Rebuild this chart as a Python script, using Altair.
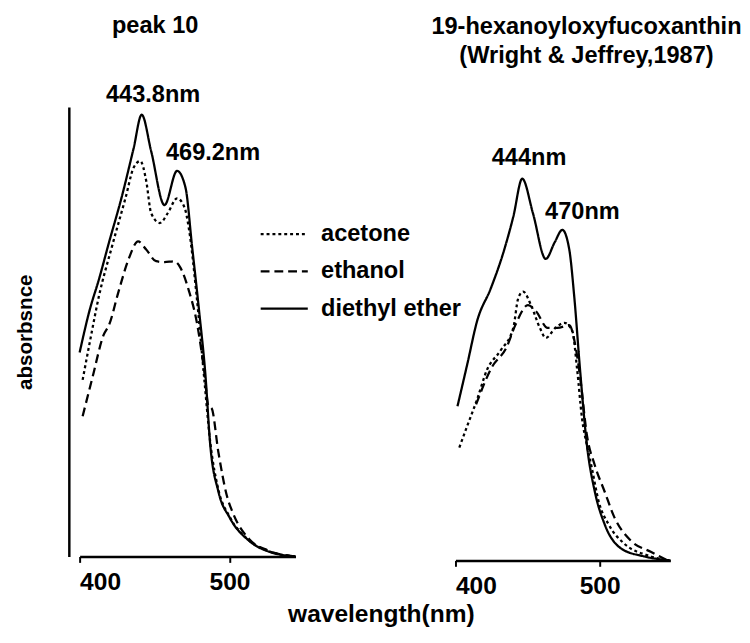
import altair as alt
import pandas as pd

FONT = "Liberation Sans"
SERIES = ["acetone", "ethanol", "diethyl ether"]

# ---------------- left panel: peak 10 ----------------
l_ether_wl = [400, 406.5, 413, 419.6, 428, 436, 441.4, 447.7, 456.6, 465, 470.6, 475, 479.7, 484, 487, 492.6, 500, 513, 526, 544]
l_ether_ab = [0.454, 0.546, 0.618, 0.699, 0.799, 0.908, 0.983, 0.902, 0.782, 0.858, 0.821, 0.690, 0.546, 0.400, 0.253, 0.144, 0.087, 0.035, 0.011, 0.0]

l_acet_wl = [402, 406.5, 413, 421.6, 430.7, 436, 440.5, 444.4, 447.7, 453.5, 458.8, 465, 469.9, 473, 478, 483, 487, 492.6, 500, 513, 526, 544]
l_acet_ab = [0.393, 0.472, 0.581, 0.690, 0.799, 0.865, 0.880, 0.836, 0.764, 0.742, 0.764, 0.797, 0.777, 0.727, 0.581, 0.400, 0.258, 0.148, 0.089, 0.036, 0.012, 0.0]

l_eth_wl = [402, 408.7, 416, 419.6, 426, 432.7, 439, 444.4, 451, 456.6, 463, 467, 473, 478, 483, 486, 488, 492.6, 498, 502.6, 513, 526, 544]
l_eth_ab = [0.312, 0.400, 0.493, 0.515, 0.590, 0.662, 0.701, 0.683, 0.657, 0.655, 0.657, 0.644, 0.590, 0.524, 0.415, 0.334, 0.330, 0.231, 0.138, 0.094, 0.039, 0.013, 0.0]

l_peak_labels = ["443.8nm", "469.2nm"]
l_peak_wl = [449, 489]
l_peak_ab = [1.026, 0.897]

# ---------------- right panel: 19-hexanoyloxyfucoxanthin ----------------
r_ether_wl = [401.4, 408.2, 415, 424.5, 433.3, 440.1, 446.3, 453.7, 462.6, 468.7, 474.1, 478.9, 482.3, 486.4, 491.2, 496.6, 503.4, 515, 530.6, 549]
r_ether_ab = [0.340, 0.433, 0.528, 0.600, 0.680, 0.758, 0.842, 0.766, 0.665, 0.701, 0.729, 0.686, 0.584, 0.420, 0.253, 0.152, 0.080, 0.026, 0.009, 0.0]

r_acet_wl = [402.7, 408.2, 415, 421.8, 431.3, 440.1, 443.5, 446.9, 452.4, 458.5, 462.6, 469.4, 475.5, 481, 484.4, 487.8, 491.2, 494.6, 499.3, 506.1, 517, 533.3, 547]
r_acet_ab = [0.249, 0.297, 0.355, 0.420, 0.463, 0.513, 0.578, 0.593, 0.563, 0.513, 0.491, 0.513, 0.524, 0.506, 0.420, 0.312, 0.253, 0.203, 0.130, 0.080, 0.037, 0.011, 0.0]

r_eth_wl = [414.3, 425.2, 435.4, 441.5, 450.3, 455.8, 463.9, 470.7, 478.9, 483, 486.4, 491.2, 496.6, 503.4, 510.2, 521.8, 535.4, 547]
r_eth_ab = [0.344, 0.426, 0.470, 0.519, 0.563, 0.550, 0.513, 0.513, 0.519, 0.476, 0.405, 0.275, 0.210, 0.152, 0.095, 0.043, 0.019, 0.0]

r_peak_labels = ["444nm", "470nm"]
r_peak_wl = [451, 488]
r_peak_ab = [0.887, 0.768]


def series_frame(pairs):
    rows = []
    for name, wls, abs_ in pairs:
        for w, a in zip(wls, abs_):
            rows.append({"wl": w, "ab": a, "solvent": name})
    return pd.DataFrame(rows)


df_left = series_frame([("diethyl ether", l_ether_wl, l_ether_ab),
                        ("acetone", l_acet_wl, l_acet_ab),
                        ("ethanol", l_eth_wl, l_eth_ab)])
df_right = series_frame([("diethyl ether", r_ether_wl, r_ether_ab),
                         ("acetone", r_acet_wl, r_acet_ab),
                         ("ethanol", r_eth_wl, r_eth_ab)])
lab_left = pd.DataFrame({"wl": l_peak_wl, "ab": l_peak_ab, "label": l_peak_labels})
lab_right = pd.DataFrame({"wl": r_peak_wl, "ab": r_peak_ab, "label": r_peak_labels})

dash_scale = alt.Scale(domain=SERIES, range=[[3, 3], [9, 5], [1, 0]])
width_scale = alt.Scale(domain=SERIES, range=[2.3, 2.3, 2.7])

legend = alt.Legend(
    title=None, orient="none", legendX=183, legendY=104,
    symbolType="stroke", symbolSize=2304, symbolStrokeWidth=2.3,
    symbolStrokeColor="black", labelFont=FONT, labelFontSize=24,
    labelFontWeight="bold", labelColor="black", labelOffset=12,
    rowPadding=-11.5, padding=0,
)

x_axis_common = dict(values=[400, 500], tickSize=6, tickWidth=2, tickColor="black",
                     domainColor="black", domainWidth=2.5, labelFont=FONT,
                     labelFontSize=25, labelFontWeight="bold", labelColor="black",
                     labelPadding=8, grid=False)


def panel(df, labs, domain, height, title, left):
    if left:
        xax = alt.Axis(title="wavelength(nm)", titleFont=FONT, titleFontSize=25,
                       titleFontWeight="bold", titleColor="black", titleX=307,
                       titleY=66, titleBaseline="alphabetic", **x_axis_common)
        yax = alt.Axis(title="absorbsnce", titleFont=FONT, titleFontSize=21,
                       titleFontWeight="bold", titleColor="black", ticks=False,
                       labels=False, grid=False, offset=11, domainColor="black",
                       domainWidth=2.5, titlePadding=34)
    else:
        xax = alt.Axis(title=None, **x_axis_common)
        yax = None
    x = alt.X("wl:Q", scale=alt.Scale(domain=domain, nice=False, zero=False), axis=xax)
    y = alt.Y("ab:Q", scale=alt.Scale(domain=[0, 1], nice=False), axis=yax)
    lines = alt.Chart(df).mark_line(interpolate="monotone", color="black").encode(
        x=x, y=y,
        strokeDash=alt.StrokeDash("solvent:N", scale=dash_scale, legend=legend),
        strokeWidth=alt.StrokeWidth("solvent:N", scale=width_scale, legend=None),
    )
    texts = alt.Chart(labs).mark_text(font=FONT, fontSize=24, fontWeight="bold",
                                      color="black", baseline="middle",
                                      align="center").encode(
        x=alt.X("wl:Q"), y=alt.Y("ab:Q"), text="label:N")
    w = 220 if left else 219
    return alt.layer(lines, texts).properties(width=w, height=height, title=title)


left_title = alt.TitleParams("peak 10", font=FONT, fontSize=24, fontWeight="bold",
                             color="black", anchor="middle", dx=-33, offset=47)
right_title = alt.TitleParams(["19-hexanoyloxyfucoxanthin", "(Wright & Jeffrey,1987)"],
                              font=FONT, fontSize=24, fontWeight="bold", color="black",
                              anchor="middle", dx=24, offset=40, lineHeight=29)

left = panel(df_left, lab_left, [400, 544], 458, left_title, True)
right = panel(df_right, lab_right, [400, 549], 462, right_title, False)

chart = alt.hconcat(left, right, spacing=163, bounds="flush").properties(
    background="white", padding={"left": 7, "top": 0, "right": 0, "bottom": 0}
).configure_view(stroke=None)

chart.save("out.html", embed_options={"renderer": "svg", "actions": False})
